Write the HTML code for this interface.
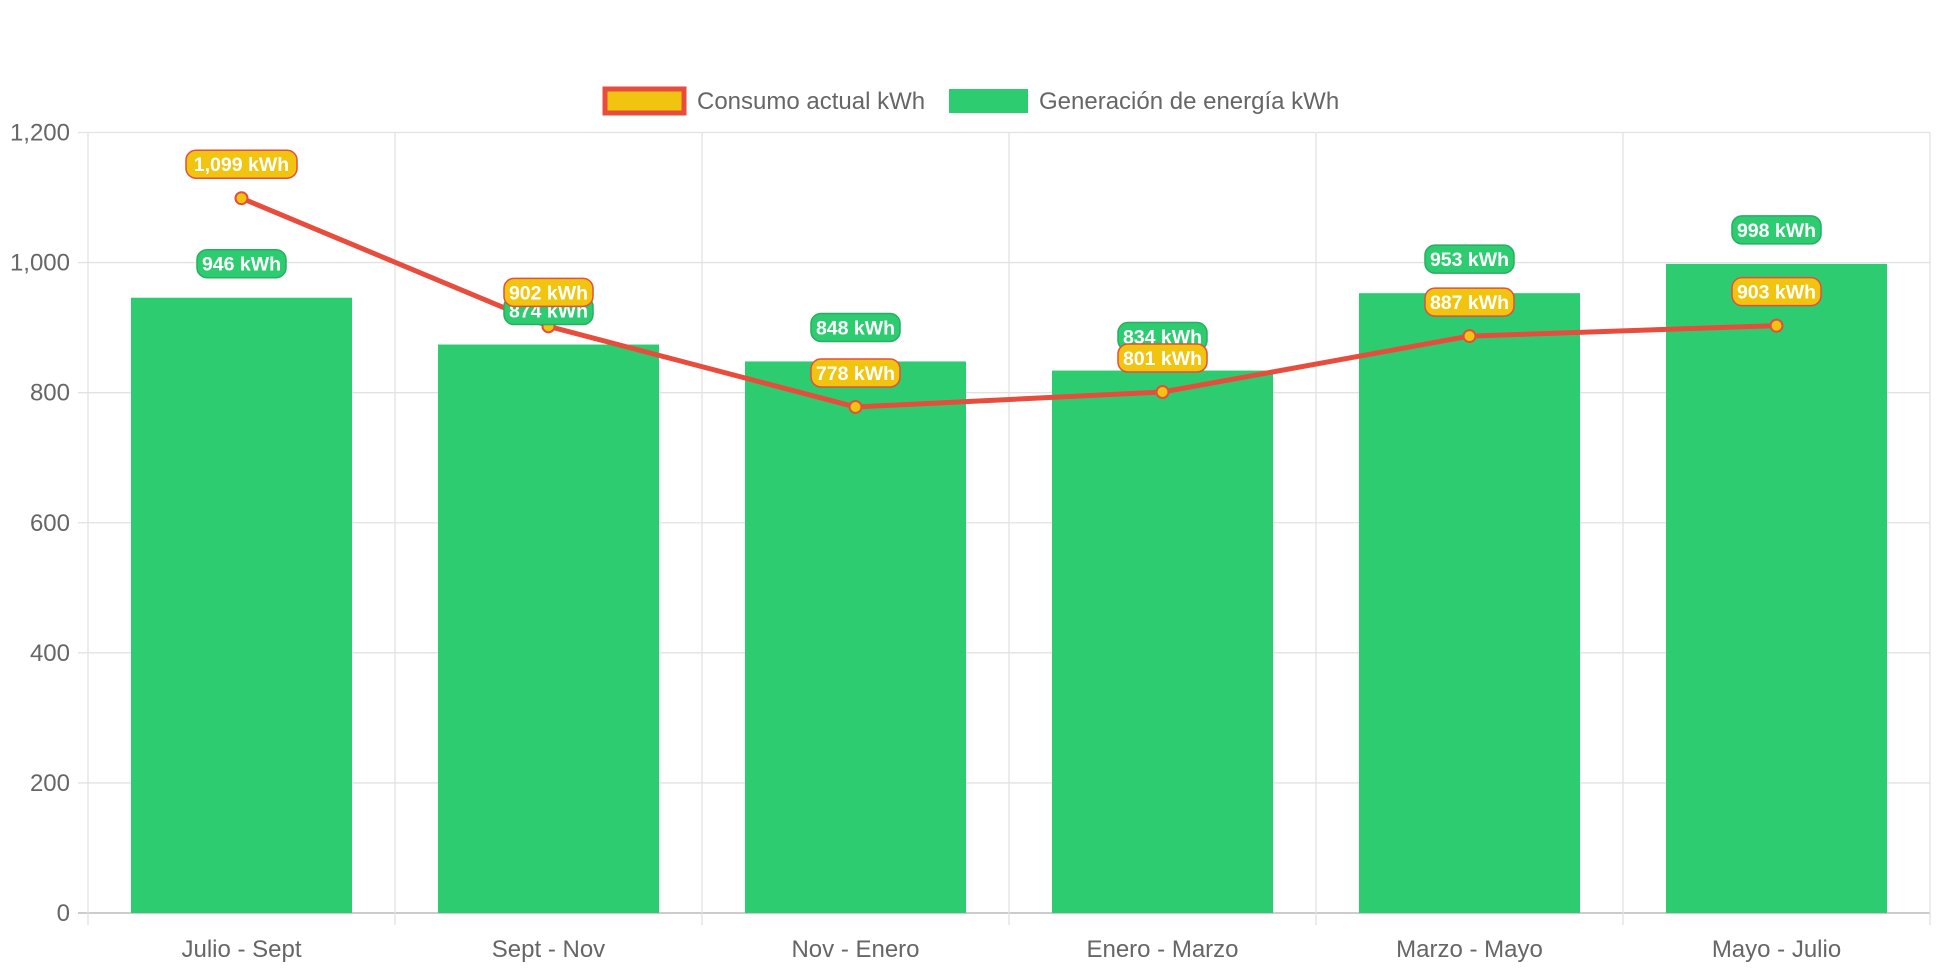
<!DOCTYPE html>
<html><head><meta charset="utf-8">
<style>
html,body{margin:0;padding:0;background:#fff;}
svg{display:block;font-family:"Liberation Sans",sans-serif;}
</style></head>
<body>
<svg id="chart" width="1942" height="970" viewBox="0 0 1942 970" xmlns="http://www.w3.org/2000/svg">
  <g>
    <g>
      <rect x="605" y="89" width="79" height="24" fill="#f1c40f" stroke="#e74c3c" stroke-width="5"/>
      <text x="697" y="109" font-size="24" fill="#666">Consumo actual kWh</text>
    </g>
    <g>
      <rect x="949" y="89" width="79" height="24" fill="#2ecc71"/>
      <text x="1039" y="109" font-size="24" fill="#666">Generación de energía kWh</text>
    </g>
  </g>
  <g id="grid"></g>
  <g id="bars"></g>
  <g id="line"></g>
  <g id="labels"></g>
</svg>
<script>
const categories = ["Julio - Sept","Sept - Nov","Nov - Enero","Enero - Marzo","Marzo - Mayo","Mayo - Julio"];
const generation = [946,874,848,834,953,998];
const consumption = [1099,902,778,801,887,903];
const yTicks = [0,200,400,600,800,1000,1200];

const NS="http://www.w3.org/2000/svg";
const L=88,R=1930,T=132.5,B=913,YMAX=1200;
const bw=(R-L)/categories.length;
const y=v=>B-(v/YMAX)*(B-T);
const xc=i=>L+bw*(i+0.5);
function mk(tag,attrs,parent){const e=document.createElementNS(NS,tag);for(const k in attrs)e.setAttribute(k,attrs[k]);parent.appendChild(e);return e;}
const grid=document.getElementById('grid'),bars=document.getElementById('bars'),line=document.getElementById('line'),labels=document.getElementById('labels');

yTicks.forEach(v=>{
  const g=mk('line',{x1:L-10,x2:R,y1:y(v),y2:y(v),stroke:v===0?'#ccc':'#e2e2e2','stroke-width':v===0?2:1.3},grid);
  
  
  const t=mk('text',{x:L-18,y:y(v)+8,'text-anchor':'end','font-size':24,fill:'#666'},grid);
  
  
  t.textContent=v.toLocaleString('en-US');
});
for(let i=0;i<=categories.length;i++){
  const g=mk('line',{x1:L+bw*i,x2:L+bw*i,y1:T,y2:B+12,stroke:'#e2e2e2','stroke-width':1.3},grid);
  
  
}
categories.forEach((c,i)=>{
  const t=mk('text',{x:xc(i),y:957,'text-anchor':'middle','font-size':24,fill:'#666'},grid);
  
  
  t.textContent=c;
});
const barW=bw*0.72;
generation.forEach((v,i)=>{
  const r=mk('rect',{x:xc(i)-barW/2,y:y(v),width:barW,height:B-y(v),fill:'#2ecc71'},bars);
  
  
});
const pts=consumption.map((v,i)=>xc(i)+','+y(v)).join(' ');
const pl=mk('polyline',{points:pts,fill:'none',stroke:'#e74c3c','stroke-width':5,'stroke-linejoin':'round'},line);


consumption.forEach((v,i)=>{
  const c=mk('circle',{cx:xc(i),cy:y(v),r:6,fill:'#f1c40f',stroke:'#e74c3c','stroke-width':2},line);
  
  
});
function label(v,i,fill,stroke,name){
  const txt=v.toLocaleString('en-US')+' kWh';
  const w=txt.length*11+12,h=28,cx=xc(i),cy=y(v)-34;
  const g=mk('g',{},labels);
  
  
  mk('rect',{x:cx-w/2,y:cy-h/2,width:w,height:h,rx:10,fill:fill,stroke:stroke,'stroke-width':1.5},g);
  const t=mk('text',{x:cx,y:cy+7,'text-anchor':'middle','font-size':19.5,'font-weight':'bold',fill:'#fff'},g);
  t.textContent=txt;
}
generation.forEach((v,i)=>label(v,i,'#2ecc71','#27ae60','label-generacion'));
consumption.forEach((v,i)=>label(v,i,'#f1c40f','#e74c3c','label-consumo'));
</script>
</body></html>
